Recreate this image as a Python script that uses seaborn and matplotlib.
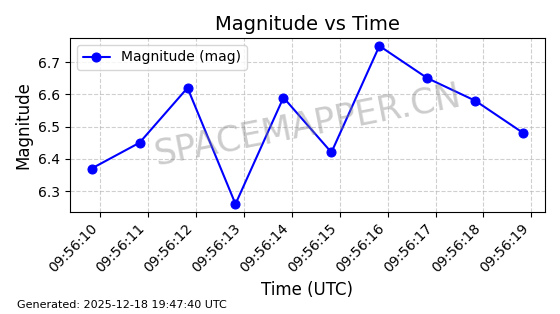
import matplotlib
matplotlib.use("Agg")
import matplotlib.pyplot as plt
import matplotlib.dates as mdates
import seaborn as sns
import pandas as pd

times = ["2025-12-18 09:56:09.83", "2025-12-18 09:56:10.83", "2025-12-18 09:56:11.83",
         "2025-12-18 09:56:12.83", "2025-12-18 09:56:13.83", "2025-12-18 09:56:14.83",
         "2025-12-18 09:56:15.83", "2025-12-18 09:56:16.83", "2025-12-18 09:56:17.83",
         "2025-12-18 09:56:18.83"]
magnitudes = [6.37, 6.45, 6.62, 6.26, 6.59, 6.42, 6.75, 6.65, 6.58, 6.48]

df = pd.DataFrame({"time": pd.to_datetime(times), "mag": magnitudes})

sns.set_style("ticks", rc={"axes.edgecolor": "black", "text.color": "black",
                           "axes.labelcolor": "black", "xtick.color": "black",
                           "ytick.color": "black", "grid.color": "#b0b0b0"})
plt.rcParams['font.family'] = ['DejaVu Sans']

fig, ax = plt.subplots(figsize=(5.6, 3.14), dpi=100)
sns.lineplot(data=df, x="time", y="mag", ax=ax, color="blue", marker="o",
             markersize=6.5, markeredgecolor="blue", linewidth=1.5,
             label="Magnitude (mag)")

ax.set_title("Magnitude vs Time", fontsize=14)
ax.set_xlabel("Time (UTC)", fontsize=12)
ax.set_ylabel("Magnitude", fontsize=12)
ax.grid(True, linestyle="--", alpha=0.6, color="#b0b0b0")
ax.xaxis.set_major_locator(mdates.SecondLocator())
ax.xaxis.set_major_formatter(mdates.DateFormatter("%H:%M:%S"))
plt.setp(ax.get_xticklabels(), rotation=45, ha="right")
ax.legend(loc="upper left")

ax.text(0.5, 0.5, "SPACEMAPPER.CN", transform=ax.transAxes, fontsize=25,
        color="gray", alpha=0.4, rotation=11, ha="center", va="center")

fig.text(0.03, 0.02, "Generated: 2025-12-18 19:47:40 UTC", fontsize=8)

fig.subplots_adjust(left=0.125, right=0.973, top=0.879, bottom=0.325)
fig.savefig("out.png", dpi=100)
